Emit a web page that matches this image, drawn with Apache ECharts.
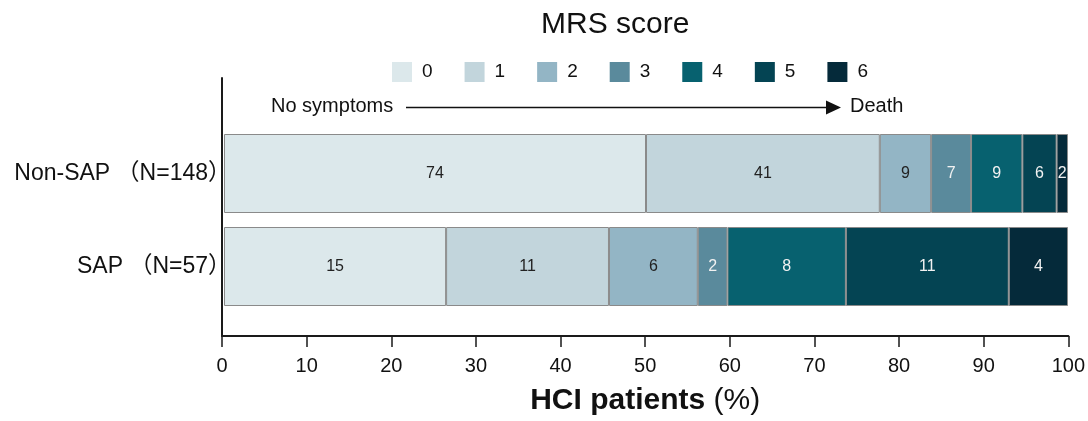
<!DOCTYPE html>
<html>
<head>
<meta charset="utf-8">
<style>
  html, body { margin: 0; padding: 0; background: #fff; }
  #chart { width: 1088px; height: 421px; }
</style>
<script src="https://cdn.jsdelivr.net/npm/echarts@6/dist/echarts.min.js"></script>
</head>
<body>
<div id="chart"></div>
<script>
// MRS score categories (0 = no symptoms ... 6 = death)
const scores = ['0', '1', '2', '3', '4', '5', '6'];
// Patient groups, top to bottom
const groups = ['Non-SAP （N=148）', 'SAP （N=57）'];
// Patient counts per MRS score
const nonSapCounts = [74, 41, 9, 7, 9, 6, 2];
const sapCounts = [15, 11, 6, 2, 8, 11, 4];
// x-axis ticks
const xTicks = [0, 10, 20, 30, 40, 50, 60, 70, 80, 90, 100];

const palette = ['#dce8eb', '#c2d5dc', '#93b5c5', '#5a8a9c', '#07616f', '#044453', '#052a3a'];
const labelColors = ['#222', '#222', '#222', '#f2f2f2', '#f2f2f2', '#f2f2f2', '#f2f2f2'];
const FONT = "'Liberation Sans', Arial, 'Noto Sans CJK SC', sans-serif";
const LATIN = "'Liberation Sans', Arial, sans-serif";

const sum = arr => arr.reduce((a, b) => a + b, 0);
const countsByGroup = [nonSapCounts, sapCounts];
const totals = countsByGroup.map(sum);

const series = scores.map((s, i) => ({
  name: s,
  type: 'bar',
  stack: 'mrs',
  xAxisIndex: 1,
  yAxisIndex: 1,
  barWidth: 79,
  data: countsByGroup.map((c, g) => ({ value: c[i] / totals[g] * 100, count: c[i] })),
  itemStyle: { color: palette[i], borderColor: '#8a8a8a', borderWidth: 1 },
  label: {
    show: true,
    position: 'inside',
    fontFamily: LATIN,
    fontSize: 16,
    color: labelColors[i],
    formatter: p => String(p.data.count)
  },
  emphasis: { disabled: true }
}));

// Empty series that anchors the outer axes frame
series.push({
  type: 'line', xAxisIndex: 0, yAxisIndex: 0, data: [], silent: true
});

const chart = echarts.init(document.getElementById('chart'), null, { renderer: 'canvas' });
chart.setOption({
  animation: false,
  backgroundColor: '#fff',
  title: {
    text: 'MRS score',
    left: 541,
    top: 10,
    padding: 0,
    textStyle: { fontFamily: LATIN, fontSize: 30, fontWeight: 'normal', color: '#111' }
  },
  legend: {
    data: scores,
    left: 392,
    top: 62,
    padding: 0,
    itemWidth: 20,
    itemHeight: 20,
    itemGap: 32,
    icon: 'rect',
    itemStyle: { borderWidth: 0 },
    textStyle: { fontFamily: LATIN, fontSize: 19, color: '#111', padding: [4, 0, 0, 5] },
    selectedMode: false
  },
  grid: [
    { left: 222, right: 18, top: 78, bottom: 84 },
    { left: 224, right: 20, top: 127, bottom: 108 }
  ],
  xAxis: [
    {
      type: 'value',
      gridIndex: 0,
      min: xTicks[0],
      max: xTicks[xTicks.length - 1],
      interval: xTicks[1] - xTicks[0],
      axisLine: { show: true, onZero: false, lineStyle: { color: '#1a1a1a', width: 2 } },
      axisTick: { show: true, length: 11, lineStyle: { color: '#1a1a1a', width: 1.5 } },
      axisLabel: { fontFamily: LATIN, fontSize: 20, color: '#111', margin: 20 },
      splitLine: { show: false },
      name: '{b|HCI patients }{r|(%)}',
      nameLocation: 'middle',
      nameGap: 50,
      nameTextStyle: {
        fontFamily: LATIN,
        fontSize: 30,
        rich: {
          b: { fontFamily: LATIN, fontSize: 30, fontWeight: 'bold', color: '#111' },
          r: { fontFamily: LATIN, fontSize: 30, fontWeight: 'normal', color: '#111' }
        }
      }
    },
    { type: 'value', gridIndex: 1, min: 0, max: 100, show: false }
  ],
  yAxis: [
    {
      type: 'value',
      gridIndex: 0,
      axisLine: { show: true, onZero: false, lineStyle: { color: '#1a1a1a', width: 2 } },
      axisTick: { show: false },
      axisLabel: { show: false },
      splitLine: { show: false }
    },
    {
      type: 'category',
      gridIndex: 1,
      inverse: true,
      data: groups,
      axisLine: { show: false },
      axisTick: { show: false },
      axisLabel: { fontFamily: FONT, fontSize: 23, color: '#111', margin: -7 }
    }
  ],
  graphic: [
    {
      type: 'text', left: 271, top: 96,
      style: { text: 'No symptoms', fontFamily: LATIN, fontSize: 20, fill: '#111' }
    },
    {
      type: 'line',
      shape: { x1: 406, y1: 107.5, x2: 832, y2: 107.5 },
      style: { stroke: '#111', lineWidth: 1.5 }
    },
    {
      type: 'polygon',
      shape: { points: [[826, 100.5], [841, 107.5], [826, 114.5]] },
      style: { fill: '#111' }
    },
    {
      type: 'text', left: 850, top: 96,
      style: { text: 'Death', fontFamily: LATIN, fontSize: 20, fill: '#111' }
    }
  ],
  series: series
});
</script>
</body>
</html>
